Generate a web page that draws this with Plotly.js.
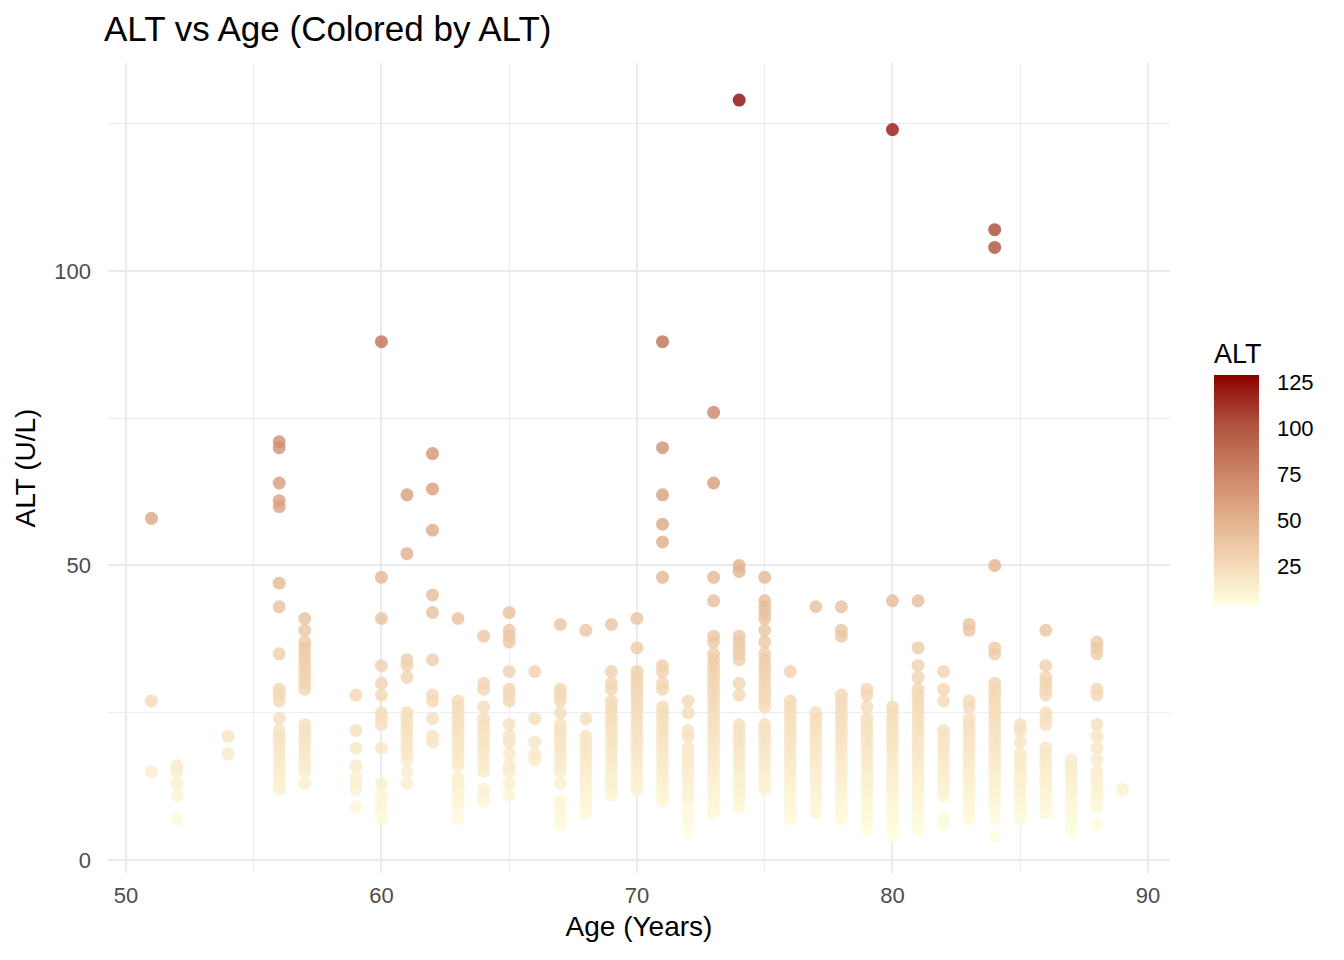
<!DOCTYPE html>
<html>
<head>
<meta charset="utf-8">
<script src="https://cdn.plot.ly/plotly-3.0.1.min.js"></script>
<style>body{margin:0;background:#fff}#chart{width:1344px;height:960px}</style>
</head>
<body>
<div id="chart"></div>
<script>
// Age groups (years) and the ALT values (U/L) read for each age
const ageGroups = [51,52,54,56,57,59,60,61,62,63,64,65,66,67,68,69,70,71,72,73,74,75,76,77,78,79,80,81,82,83,84,85,86,87,88,89];
const altByAge = [
  [58,27,15],
  [16,15,13,11,7],
  [21,18],
  [71,70,64,61,60,47,43,35,29,28,27,24,22,21,20,19,18,17,16,15,14,13,12],
  [41,39,37,36,35,34,33,32,31,30,29,23,22,21,20,19,18,17,16,15,13],
  [28,22,19,16,14,13,12,9],
  [88,48,41,33,30,28,25,24,23,19,13,11,10,9,8,7],
  [62,52,34,33,31,25,24,23,22,21,20,19,18,17,15,13],
  [69,63,56,45,42,34,28,27,24,21,20],
  [41,27,26,25,24,23,22,21,20,19,18,17,16,14,13,12,11,10,9,7],
  [38,30,29,26,24,23,22,21,20,19,18,17,16,15,12,11,10],
  [42,39,38,37,32,29,28,27,23,21,20,18,16,15,13,11],
  [32,24,20,18,17],
  [40,29,28,27,25,23,22,21,20,19,18,17,16,15,13,10,9,8,7,6],
  [39,24,21,20,19,18,17,16,15,14,13,12,11,10,9,8],
  [40,32,30,29,27,26,25,24,23,22,21,20,19,18,17,16,15,14,13,12,11],
  [41,36,32,31,30,29,28,27,26,25,24,23,22,21,20,19,18,17,16,15,14,13,12],
  [88,70,62,57,54,48,33,32,30,29,26,25,24,23,22,21,20,19,18,17,16,15,14,13,12,11,10],
  [27,25,22,21,19,18,17,16,15,14,13,12,11,10,8,7,5],
  [76,64,48,44,38,37,35,34,33,32,31,30,29,28,27,26,25,24,23,22,21,20,19,18,17,16,15,14,13,12,11,10,9,8],
  [129,50,49,38,37,36,35,34,30,28,23,22,21,20,19,18,17,16,15,14,13,12,11,10,9],
  [48,44,43,42,41,39,37,35,34,33,32,31,30,29,28,27,26,23,22,21,20,19,18,17,16,15,14,13,12],
  [32,27,26,25,24,23,22,21,20,19,18,17,16,15,14,13,12,11,10,9,8,7],
  [43,25,24,23,22,21,20,19,18,17,16,15,14,13,12,11,10,9,8],
  [43,39,38,28,27,26,25,24,23,22,21,20,19,18,17,16,15,14,13,12,11,10,9,8,7],
  [29,28,26,24,23,22,21,20,19,18,17,16,15,14,13,12,11,10,9,8,7,6,5],
  [124,44,26,25,24,23,22,21,20,19,18,17,16,15,14,13,12,11,10,9,8,7,6,5,4],
  [44,36,33,31,29,28,27,26,25,24,23,22,21,20,19,18,17,16,15,14,13,12,11,10,9,8,7,6,5],
  [32,29,27,22,21,20,19,18,17,16,15,14,13,12,11,7,6],
  [40,39,27,26,24,23,22,21,20,19,18,17,16,15,14,13,12,11,10,9,8,7],
  [107,104,50,36,35,30,29,28,27,26,25,24,23,22,21,20,19,18,17,16,15,14,13,12,11,10,9,7,4],
  [23,22,20,18,17,16,15,14,13,12,11,10,9,8,7],
  [39,33,31,30,29,28,25,24,23,19,18,17,16,15,14,13,12,11,10,9,8],
  [17,16,15,14,13,12,11,10,9,8,7,6,5],
  [37,36,35,29,28,23,21,19,17,15,14,13,12,11,10,9,6],
  [12]
];
const xTicks = [50,60,70,80,90];
const yTicks = [0,50,100];
const cbTicks = [25,50,75,100,125];

const ages = [], alts = [];
ageGroups.forEach((a, i) => altByAge[i].forEach(v => { ages.push(a); alts.push(v); }));

const scale = [
  [0.0, '#FFFFE0'],
  [0.2, '#F3D6B2'],
  [0.4, '#E0AB87'],
  [0.6, '#C97E62'],
  [0.8, '#AD4D3B'],
  [1.0, '#8B0000']
];

const trace = {
  type: 'scatter', mode: 'markers',
  x: ages, y: alts,
  marker: {
    size: 11.5, color: alts, colorscale: scale, cmin: 4, cmax: 129,
    opacity: 0.78,
    line: {width: 1.5, color: alts, colorscale: scale, cmin: 4, cmax: 129},
    showscale: true,
    colorbar: {
      title: {text: 'ALT', side: 'top', font: {size: 27, color: '#000', family: 'Liberation Sans'}},
      tickvals: cbTicks, ticktext: cbTicks.map(String),
      ticks: 'outside', ticklen: 14, tickcolor: '#ffffff', tickwidth: 1,
      tickfont: {size: 22, color: '#000', family: 'Liberation Sans'},
      thickness: 45, thicknessmode: 'pixels',
      len: 265, lenmode: 'pixels',
      x: 1.0415, xanchor: 'left', y: (873 - 605) / 810, yanchor: 'bottom',
      xpad: 0, ypad: 0, outlinewidth: 0
    }
  },
  hoverinfo: 'x+y'
};

const gridMajor = '#EBEBEB';
const layout = {
  width: 1344, height: 960,
  margin: {l: 108, r: 174, t: 63, b: 87},
  paper_bgcolor: '#fff', plot_bgcolor: '#fff',
  font: {family: 'Liberation Sans', color: '#000'},
  title: {text: 'ALT vs Age (Colored by ALT)', x: 104/1344, xanchor: 'left', xref: 'container',
          y: 1 - 29/960, yanchor: 'middle', font: {size: 35, color: '#000'}},
  xaxis: {
    range: [49.3, 90.86], tickvals: xTicks, ticktext: xTicks.map(String),
    showgrid: true, gridcolor: gridMajor, gridwidth: 2, zeroline: false, showline: false,
    ticks: '', ticklabelstandoff: 7, tickfont: {size: 22, color: '#4D4D4D'},
    minor: {dtick: 5, tick0: 0, showgrid: true, gridcolor: '#EDEDED', gridwidth: 1, ticks: ''},
    title: {text: 'Age (Years)', font: {size: 28, color: '#000'}, standoff: 9},
    automargin: false
  },
  yaxis: {
    range: [-2.2, 135.3], tickvals: yTicks, ticktext: yTicks.map(String),
    showgrid: true, gridcolor: gridMajor, gridwidth: 2, zeroline: false, showline: false,
    ticks: '', ticklabelstandoff: 16, tickfont: {size: 22, color: '#4D4D4D'},
    minor: {dtick: 25, tick0: 0, showgrid: true, gridcolor: '#EDEDED', gridwidth: 1, ticks: ''},
    title: {text: 'ALT (U/L)', font: {size: 28, color: '#000'}, standoff: 10},
    automargin: false
  },
  showlegend: false
};

Plotly.newPlot('chart', [trace], layout, {displayModeBar: false, staticPlot: true});
</script>
</body>
</html>
